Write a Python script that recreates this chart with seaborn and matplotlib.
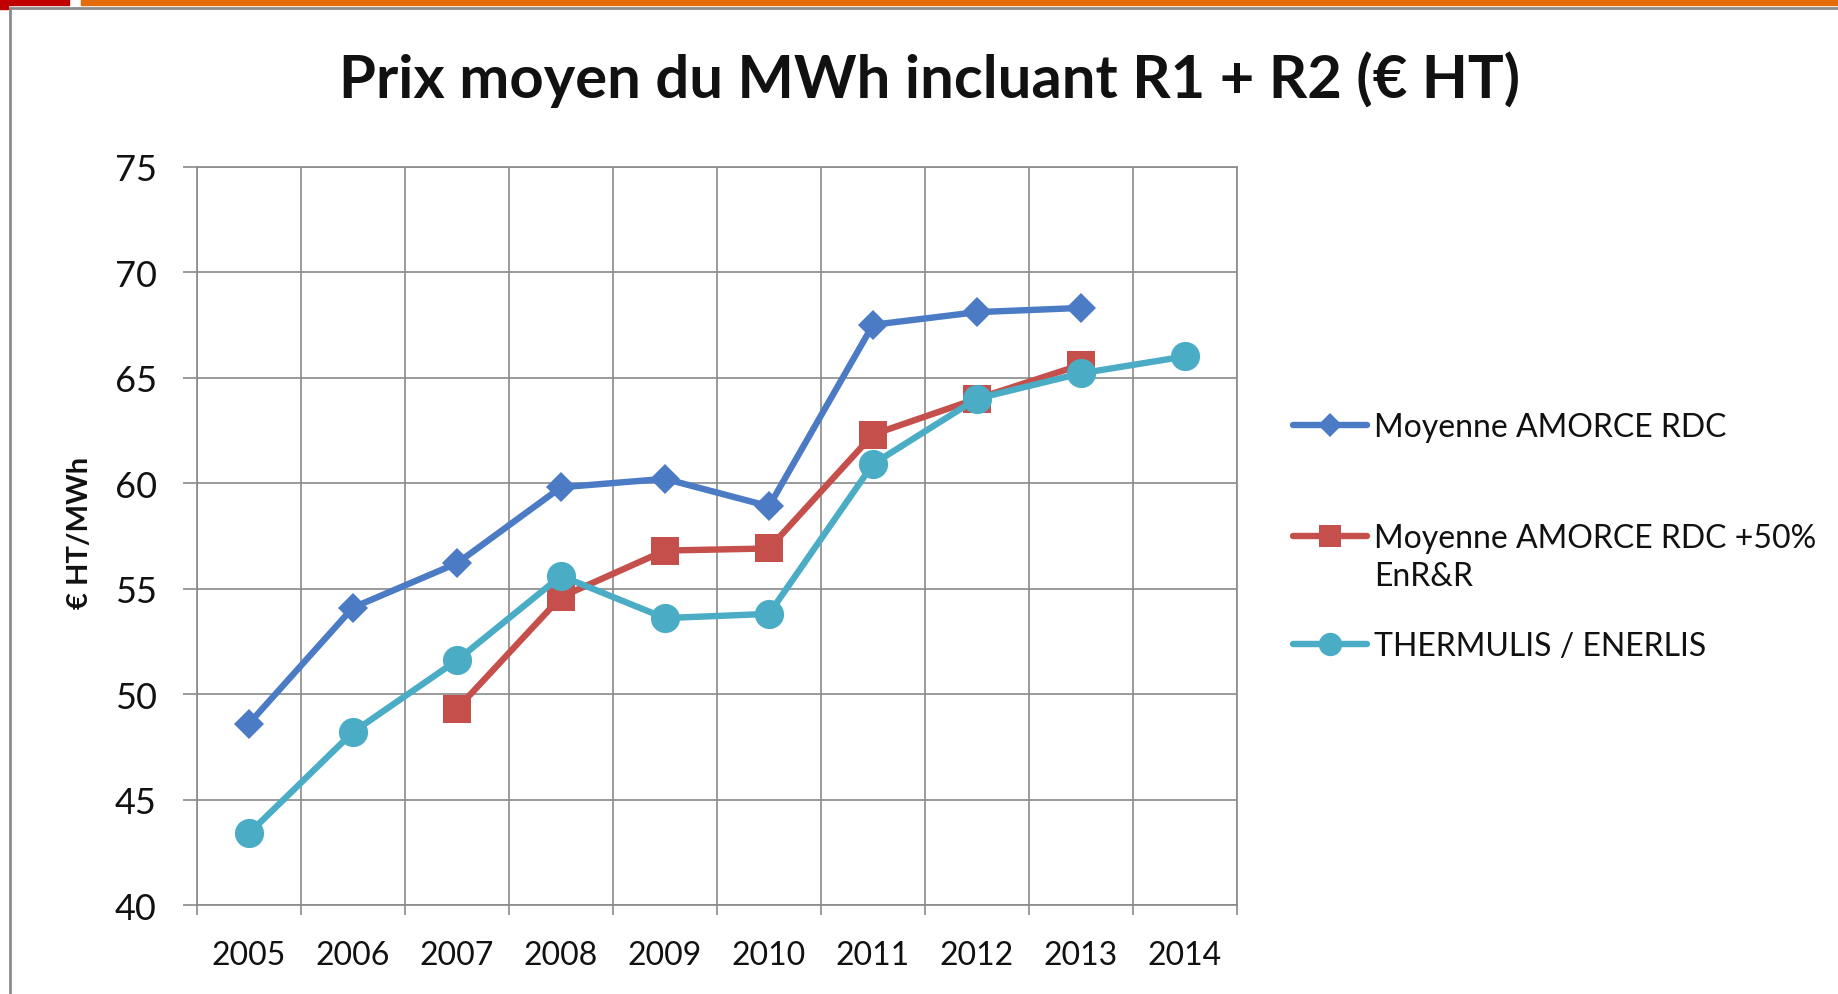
import matplotlib
matplotlib.use("Agg")
import matplotlib.pyplot as plt
from matplotlib.patches import Rectangle
from matplotlib.lines import Line2D
import seaborn as sns
import numpy as np
import pandas as pd

# valeurs
years = [2005, 2006, 2007, 2008, 2009, 2010, 2011, 2012, 2013, 2014]
amorce_rdc = [48.6, 54.1, 56.2, 59.8, 60.2, 58.9, 67.5, 68.1, 68.3, np.nan]
amorce_enr = [np.nan, np.nan, 49.3, 54.6, 56.8, 56.9, 62.3, 64.0, 65.6, np.nan]
thermulis = [43.4, 48.2, 51.6, 55.6, 53.6, 53.8, 60.9, 64.0, 65.2, 66.0]

labels = ["Moyenne AMORCE RDC", "Moyenne AMORCE RDC +50%", "THERMULIS / ENERLIS"]
label_suite = "EnR&R"  # deuxième ligne de la 2e entrée
colors = ["#4A7BC4", "#C5504B", "#4BACC6"]
markers = ["D", "s", "o"]
msizes = [15, 20, 21]
y_ticks = [40, 45, 50, 55, 60, 65, 70, 75]

title = "Prix moyen du MWh incluant R1 + R2 (€ HT)"
y_label = "€ HT/MWh"

sns.set_style("white")
plt.rcParams["font.family"] = ["Lato", "DejaVu Sans"]

fig = plt.figure(figsize=(18.38, 9.95), dpi=100)
ax = fig.add_axes([0.1072, 0.0894, 0.673 - 0.1072, 0.8316 - 0.0894])

grid_c = "#8a8a8a"
series = [amorce_rdc, amorce_enr, thermulis]
for vals, c, m, ms in zip(series, colors, markers, msizes):
    df = pd.DataFrame({"annee": years, "prix": vals}).dropna()
    sns.lineplot(data=df, x="annee", y="prix", ax=ax, color=c, marker=m,
                 markersize=ms, markeredgecolor=c, markeredgewidth=0,
                 linewidth=4.6, legend=False)

ax.set_xlim(years[0] - 0.5, years[-1] + 0.5)
ax.set_ylim(y_ticks[0], y_ticks[-1])
ax.set_yticks(y_ticks)
ax.set_xticks(years)
ax.set_xticklabels([str(y) for y in years])
ax.set_xticks(np.arange(years[0] - 0.5, years[-1] + 1, 1.0), minor=True)
ax.set_xlabel("")
ax.set_ylabel("")

ax.grid(True, axis="y", which="major", color=grid_c, linewidth=1.2)
ax.grid(True, axis="x", which="minor", color=grid_c, linewidth=1.2)
ax.grid(False, axis="x", which="major")
ax.set_axisbelow(True)
for s in ax.spines.values():
    s.set_color(grid_c)
    s.set_linewidth(1.2)

ax.tick_params(axis="y", which="major", length=10, width=1.2, color=grid_c,
               pad=19, labelsize=26, labelcolor="#111111", left=True)
ax.tick_params(axis="x", which="major", length=0, pad=25, labelsize=23,
               labelcolor="#111111")
ax.tick_params(axis="x", which="minor", length=7, width=1.2, color=grid_c,
               bottom=True)

fig.text(0.506, 0.9196, title, ha="center", va="center", fontsize=43,
         fontweight="bold", color="#111111")
fig.text(0.0435, 0.4643, y_label, ha="center", va="center", rotation=90,
         fontsize=21, fontweight="bold", color="#111111")

# légende : une entrée par bloc, comme dans Excel
leg_y = [0.5698, 0.4583, 0.3497]
for line, lab, yy in zip(ax.get_lines()[:3], labels, leg_y):
    h = Line2D([], [], color=line.get_color(), marker=line.get_marker(),
               markersize=line.get_markersize() * 0.8, markeredgewidth=0,
               linewidth=4.6)
    fig.legend([h], [lab], loc="center left", bbox_to_anchor=(0.7035, yy),
               frameon=False, fontsize=23, borderpad=0, borderaxespad=0,
               handlelength=2.3, handletextpad=0.25, labelcolor="#111111")
fig.text(0.7476, 0.4201, label_suite, ha="left", va="center", fontsize=23,
         color="#111111")

# bandeau et cadre du diaporama
fig.add_artist(Rectangle((0, 1 - 6 / 995), 69 / 1838, 6 / 995, transform=fig.transFigure,
                         color="#C00000", zorder=5))
fig.add_artist(Rectangle((0, 1 - 10 / 995), 8 / 1838, 10 / 995, transform=fig.transFigure,
                         color="#C00000", zorder=5))
fig.add_artist(Rectangle((81 / 1838, 1 - 6 / 995), 1, 6 / 995, transform=fig.transFigure,
                         color="#E46C0A", zorder=5))
fig.add_artist(Line2D([10 / 1838, 1], [1 - 8.5 / 995, 1 - 8.5 / 995], transform=fig.transFigure,
                      color="#8c8c8c", linewidth=2))
fig.add_artist(Line2D([10 / 1838, 10 / 1838], [0, 1 - 8.5 / 995], transform=fig.transFigure,
                      color="#8c8c8c", linewidth=2))

fig.savefig("out.png", dpi=100)
